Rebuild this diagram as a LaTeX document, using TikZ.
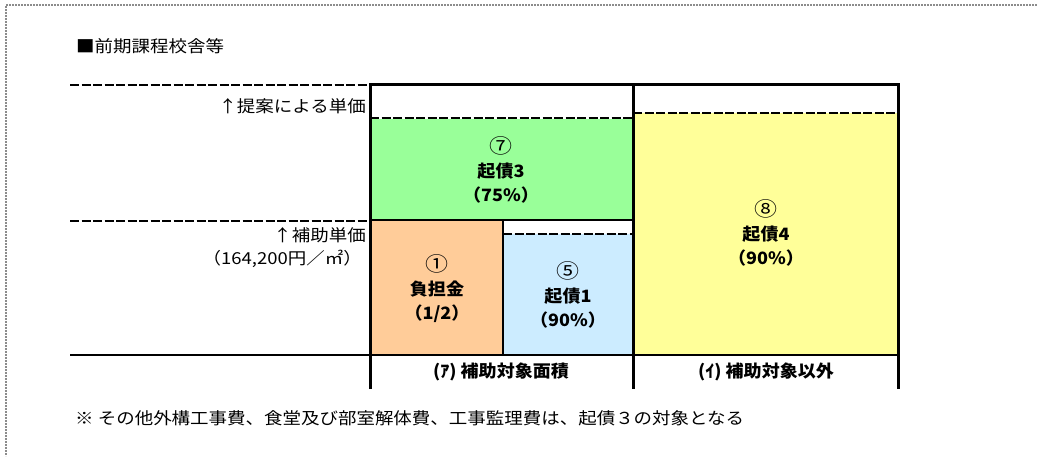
\documentclass[tikz,border=0pt]{standalone}
\usepackage{fontspec}
\setmainfont{Noto Sans CJK JP}
\newfontfamily\mincho[FakeStretch=1.12]{Noto Sans CJK JP}
\newfontfamily\goth[FakeStretch=1.06]{Noto Sans CJK JP}
\newfontfamily\circfont[FakeStretch=1.15]{Noto Sans CJK JP}
\newcommand\cnum[1]{{\circfont\mdseries\fontsize{20}{24}\selectfont #1}}
\definecolor{cgreen}{HTML}{99FF99}
\definecolor{corange}{HTML}{FFCC99}
\definecolor{cblue}{HTML}{CCECFF}
\definecolor{cyellow}{HTML}{FFFF99}
\definecolor{framegray}{HTML}{8C8C8C}
\tikzset{
  frameline/.style={draw=framegray,line width=1.6pt,dash pattern=on 2pt off 1pt},
  boxline/.style={line width=3pt},
  midline/.style={line width=2.4pt},
  dashline/.style={line width=2pt,dash pattern=on 9pt off 2.5pt},
  mtext/.style={inner sep=0pt,font=\mincho\fontsize{16.5}{20}\selectfont},
  btext/.style={inner sep=0pt,align=center,font=\goth\bfseries\fontsize{17}{24}\selectfont},
}
\begin{document}
\begin{tikzpicture}[x=1pt,y=-1pt]
\useasboundingbox (0,0) rectangle (1037,456);
% frame
\draw[frameline] (1037,5) -- (6,5) -- (6,456);
% fills
\fill[cgreen]  (370,119) rectangle (633,220);
\fill[corange] (370,220) rectangle (503,355);
\fill[cblue]   (503,234) rectangle (633,355);
\fill[cyellow] (633,113) rectangle (898,355);
% dashed levels
\draw[dashline] (70,85) -- (370,85);
\draw[dashline] (70,221) -- (370,221);
\draw[dashline] (370,118) -- (633,118);
\draw[dashline] (503,234) -- (633,234);
\draw[dashline] (633,113) -- (898,113);
% solid lines
\draw[midline] (70,355) -- (898,355);
\draw[midline] (370,220) -- (633,220);
\draw[midline] (503,220) -- (503,355);
\draw[boxline] (370,389) -- (370,84) -- (898,84) -- (898,389);
\draw[boxline] (633,84) -- (633,389);
% texts
\node[mtext,anchor=west] (title) at (76,46) {■前期課程校舎等};
\node[mtext,anchor=east] (lab1) at (366,106) {↑提案による単価};
\node[mtext,anchor=east] (lab2) at (366,235) {↑補助単価};
\node[mtext,anchor=east] (lab3) at (362,259) {（164,200円／㎡）};
\node[btext] (n7) at (501,170) {\cnum{⑦}\\起債3\\（75\%）};
\node[btext] (n1) at (437,289) {\cnum{①}\\負担金\\（1/2）};
\node[btext] (n5) at (568,295) {\cnum{⑤}\\起債1\\（90\%）};
\node[btext] (n8) at (766,233) {\cnum{⑧}\\起債4\\（90\%）};
\node[btext] (la) at (501,372) {(ｱ) 補助対象面積};
\node[btext] (li) at (766,372) {(ｲ) 補助対象以外};
\node[mtext,anchor=west] (foot) at (75,418) {※ その他外構工事費、食堂及び部室解体費、工事監理費は、起債３の対象となる};
\end{tikzpicture}
\end{document}
